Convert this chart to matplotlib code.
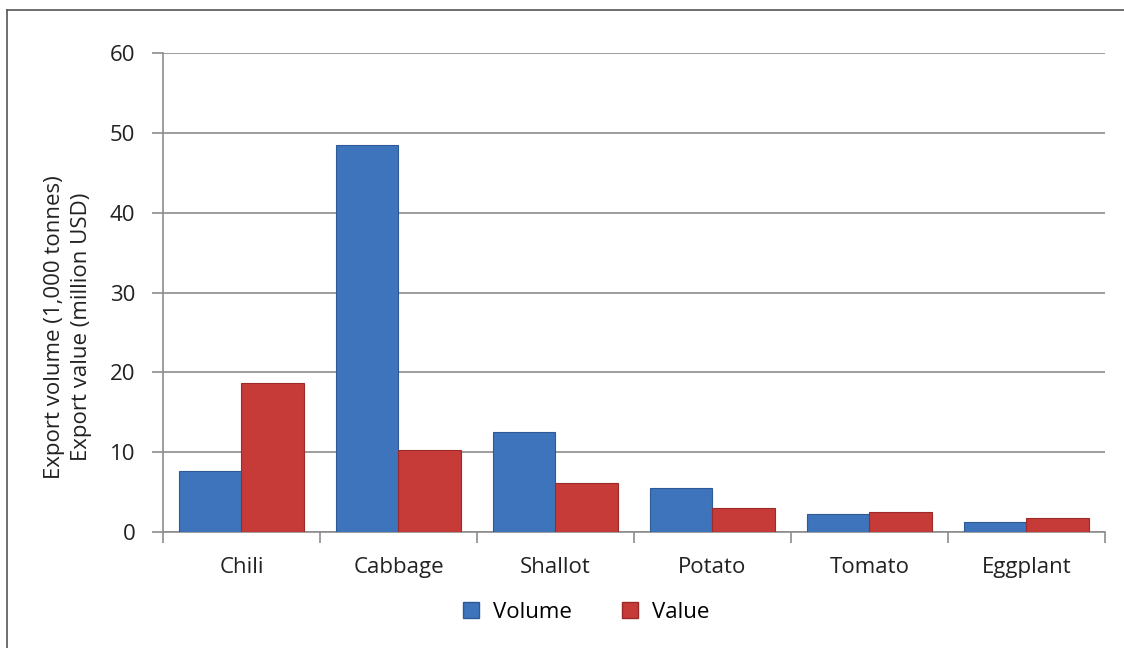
import numpy as np
import matplotlib.pyplot as plt
from matplotlib.lines import Line2D

plt.rcParams['font.family'] = ['Open Sans', 'DejaVu Sans']

categorias = ['Chili', 'Cabbage', 'Shallot', 'Potato', 'Tomato', 'Eggplant']
volumen = [7.6, 48.5, 12.5, 5.5, 2.3, 1.2]
valor = [18.7, 10.3, 6.1, 3.0, 2.5, 1.8]

azul = '#3e74bb'
rojo = '#c63a38'
tam = 16

fig = plt.figure(figsize=(11.24, 6.48), dpi=100)
ax = fig.add_axes([0.145, 0.179, 0.838, 0.739])

x = np.arange(len(categorias))
ancho = 0.4
ax.bar(x - ancho / 2, volumen, ancho, color=azul, edgecolor='#2d5a96', linewidth=0.8,
       label='Volume', zorder=3)
ax.bar(x + ancho / 2, valor, ancho, color=rojo, edgecolor='#9c2a28', linewidth=0.8,
       label='Value', zorder=3)

ax.set_xlim(-0.5, len(categorias) - 0.5)
ax.set_ylim(0, 60)
ax.set_yticks(range(0, 61, 10))
ax.yaxis.grid(True, color='#8c8c8c', linewidth=1.2, zorder=0)
ax.set_xticks(x)
ax.set_xticklabels(categorias)
ax.set_xticks(np.arange(-0.5, len(categorias)), minor=True)
ax.tick_params(axis='x', which='major', length=0, pad=18, labelsize=tam, colors='#222222')
ax.tick_params(axis='x', which='minor', length=8, color='#8c8c8c', width=1.2)
ax.tick_params(axis='y', length=8, color='#8c8c8c', width=1.2, pad=12, labelsize=tam,
               labelcolor='#222222')

for lado in ['top', 'right']:
    ax.spines[lado].set_visible(False)
for lado in ['left', 'bottom']:
    ax.spines[lado].set_color('#8c8c8c')
    ax.spines[lado].set_linewidth(1.2)

ax.set_ylabel('Export volume (1,000 tonnes)\nExport value (million USD)', fontsize=tam,
              color='#222222', linespacing=1.4, va='center')
ax.yaxis.set_label_coords(-0.101, 0.428)

marcas = [Line2D([], [], marker='s', linestyle='', markersize=12, markerfacecolor=azul,
                 markeredgecolor='#2d5a96', label='Volume'),
          Line2D([], [], marker='s', linestyle='', markersize=12, markerfacecolor=rojo,
                 markeredgecolor='#9c2a28', label='Value')]
fig.legend(handles=marcas, loc='center', bbox_to_anchor=(0.515, 0.055), ncol=2, frameon=False,
           fontsize=tam, handletextpad=0.0, columnspacing=1.6)

# marco exterior
fig.add_artist(Line2D([0.0065, 0.0065], [0.0, 0.985], color='#555555', linewidth=1.2))
fig.add_artist(Line2D([0.0065, 1.0], [0.985, 0.985], color='#555555', linewidth=1.2))

fig.savefig('out.png', dpi=100)
